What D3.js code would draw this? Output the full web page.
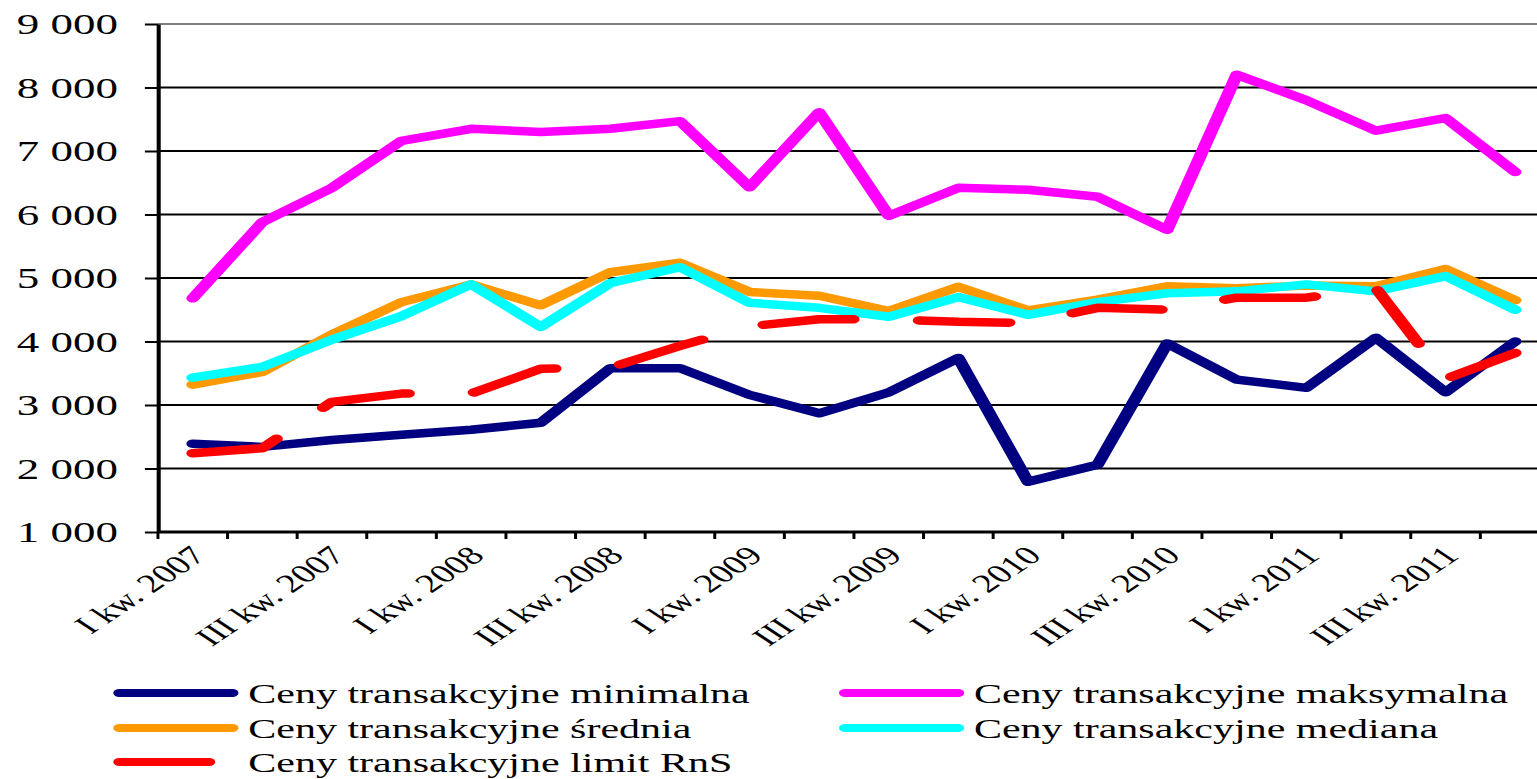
<!DOCTYPE html>
<html>
<head>
<meta charset="utf-8">
<script src="https://cdn.jsdelivr.net/npm/d3@7"></script>
<style>
    html, body { margin: 0; padding: 0; background: #fff; }
    svg { display: block; }
    text { font-family: "Liberation Serif", "Times New Roman", serif; fill: #000; }
</style>
</head>
<body>
<div id="chart"></div>
<script>
// Quarters on the x axis
const categories = [
    "I kw. 2007", "II kw. 2007", "III kw. 2007", "IV kw. 2007",
    "I kw. 2008", "II kw. 2008", "III kw. 2008", "IV kw. 2008",
    "I kw. 2009", "II kw. 2009", "III kw. 2009", "IV kw. 2009",
    "I kw. 2010", "II kw. 2010", "III kw. 2010", "IV kw. 2010",
    "I kw. 2011", "II kw. 2011", "III kw. 2011", "IV kw. 2011"
];

// Series values
const minimalna  = [2390, 2340, 2450, 2530, 2610, 2720, 3580, 3580, 3160, 2870, 3200, 3740, 1790, 2060, 3970, 3400, 3270, 4060, 3200, 4000];
const maksymalna = [4680, 5880, 6420, 7160, 7350, 7300, 7350, 7470, 6430, 7610, 5980, 6420, 6390, 6280, 5760, 8200, 7800, 7320, 7520, 6670];
const srednia    = [3320, 3520, 4110, 4620, 4900, 4570, 5090, 5240, 4780, 4720, 4480, 4860, 4490, 4660, 4870, 4840, 4880, 4870, 5140, 4650];
const mediana    = [3430, 3600, 4030, 4400, 4900, 4230, 4920, 5170, 4610, 4530, 4390, 4700, 4420, 4620, 4760, 4790, 4900, 4790, 5030, 4500];
const limitRnS   = [2240, 2320, 3050, 3180, 3180, 3570, 3590, 3930, 4240, 4350, 4350, 4310, 4290, 4530, 4500, 4690, 4690, 4840, 3410, 3820];

const yTicks = [1000, 2000, 3000, 4000, 5000, 6000, 7000, 8000, 9000];

const series = [
    { name: "Ceny transakcyjne minimalna",  values: minimalna,  color: "#000080" },
    { name: "Ceny transakcyjne maksymalna", values: maksymalna, color: "#FF00FF" },
    { name: "Ceny transakcyjne średnia",    values: srednia,    color: "#FF9900" },
    { name: "Ceny transakcyjne mediana",    values: mediana,    color: "#00FFFF" },
    { name: "Ceny transakcyjne limit RnS",  values: limitRnS,   color: "#FF0000", dash: "60,44" }
];

// The original chart is stretched 1.5x horizontally, so everything is drawn
// in a narrower "logical" space and scaled on x.
const SX = 1.5;
const width = 1537, height = 779;
const W = width / SX;

const svg = d3.select("#chart").append("svg")
    .attr("width", width)
    .attr("height", height);

const root = svg.append("g").attr("transform", `scale(${SX},1)`);

const x = d3.scaleBand()
    .domain(categories)
    .range([105.3, 105.3 + categories.length * 46.4]);

const y = d3.scaleLinear()
    .domain([1000, 9000])
    .range([532, 24]);

const cx = d => x(d) + x.bandwidth() / 2;

// Horizontal gridlines (top one is grey, like the plot border)
root.append("g")
    .selectAll("line")
    .data(yTicks.filter(v => v > 1000))
    .enter()
    .append("line")
    .attr("x1", x.range()[0])
    .attr("x2", W)
    .attr("y1", d => y(d))
    .attr("y2", d => y(d))
    .attr("stroke", d => d === 9000 ? "#808080" : "#000")
    .attr("stroke-width", 2);

// Y axis
const fmt = d3.formatLocale({ decimal: ",", thousands: " ", grouping: [3], currency: ["", ""] }).format(",d");
const yAxis = root.append("g")
    .attr("transform", `translate(${x.range()[0]},0)`)
    .call(d3.axisLeft(y).tickValues(yTicks).tickFormat(fmt).tickSize(8.7).tickSizeOuter(0).tickPadding(18));
yAxis.select(".domain").attr("stroke", "#000").attr("stroke-width", 2.7);
yAxis.selectAll(".tick line").attr("stroke", "#000").attr("stroke-width", 2);
yAxis.selectAll(".tick text")
    .attr("font-size", 30)
    .attr("font-family", "'Liberation Serif', 'Times New Roman', serif")
    .attr("dy", "0.33em");

// X axis line and ticks at category boundaries
const xAxis = root.append("g");
xAxis.append("line")
    .attr("x1", x.range()[0])
    .attr("x2", W)
    .attr("y1", y(1000))
    .attr("y2", y(1000))
    .attr("stroke", "#000")
    .attr("stroke-width", 3);

xAxis.selectAll(".xtick")
    .data(categories)
    .enter()
    .append("line")
    .attr("class", "xtick")
    .attr("x1", d => x(d))
    .attr("x2", d => x(d))
    .attr("y1", y(1000))
    .attr("y2", y(1000) + 7)
    .attr("stroke", "#000")
    .attr("stroke-width", 2);

// Rotated labels, every second quarter
xAxis.selectAll(".xlabel")
    .data(categories.filter((d, i) => i % 2 === 0))
    .enter()
    .append("text")
    .attr("class", "xlabel")
    .attr("font-size", 26)
    .attr("text-anchor", "end")
    .attr("transform", d => `translate(${cx(d) + 10},557) rotate(-45)`)
    .text(d => d);

// Series lines
const line = d3.line()
    .x((d, i) => cx(categories[i]))
    .y(d => y(d));

root.append("g")
    .selectAll("path")
    .data(series)
    .enter()
    .append("path")
    .attr("d", d => line(d.values))
    .attr("fill", "none")
    .attr("stroke", d => d.color)
    .attr("stroke-width", 8.5)
    .attr("stroke-linejoin", "round")
    .attr("stroke-linecap", "round")
    .attr("stroke-dasharray", d => d.dash || null);

// Legend: two columns, row-major order
const legendCols = [79.5, 563.3];
const legendRows = [693, 728, 762];
const legend = root.append("g")
    .selectAll("g")
    .data(series)
    .enter()
    .append("g")
    .attr("transform", (d, i) => `translate(${legendCols[i % 2]},${legendRows[Math.floor(i / 2)]})`);

legend.append("line")
    .attr("x1", 0)
    .attr("x2", 75.5)
    .attr("stroke", d => d.color)
    .attr("stroke-width", 8)
    .attr("stroke-linecap", "round")
    .attr("stroke-dasharray", d => d.dash || null);

legend.append("text")
    .attr("x", 86)
    .attr("dy", "0.34em")
    .attr("font-size", 28)
    .text(d => d.name);
</script>
</body>
</html>
